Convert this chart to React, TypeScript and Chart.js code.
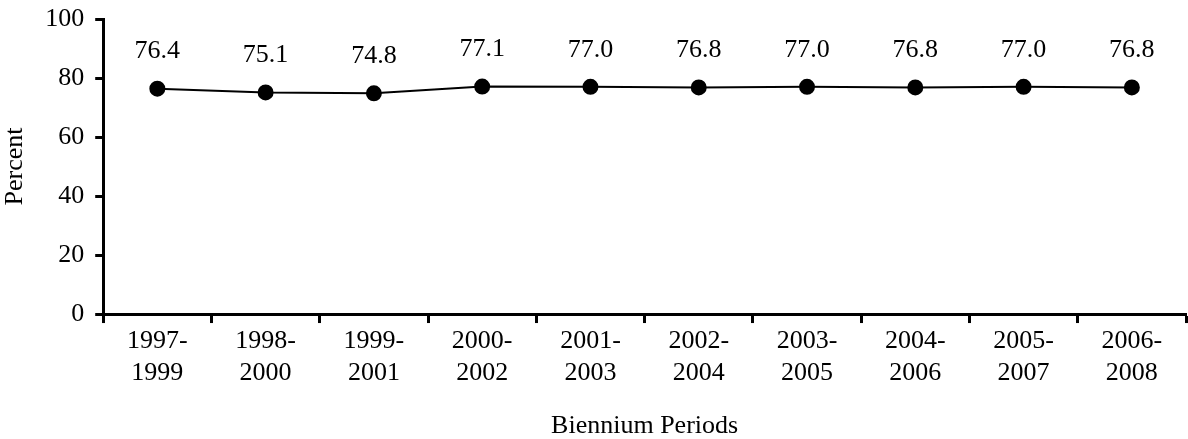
import React, { useEffect, useRef } from "react";
import { Chart, registerables } from "chart.js";

Chart.register(...registerables);

const categories: string[][] = [
  ["1997-", "1999"], ["1998-", "2000"], ["1999-", "2001"], ["2000-", "2002"], ["2001-", "2003"],
  ["2002-", "2004"], ["2003-", "2005"], ["2004-", "2006"], ["2005-", "2007"], ["2006-", "2008"],
];
const percentValues: number[] = [76.4, 75.1, 74.8, 77.1, 77.0, 76.8, 77.0, 76.8, 77.0, 76.8];
const yTicks: number[] = [0, 20, 40, 60, 80, 100];

const FONT = "'Liberation Serif', 'Times New Roman', serif";
const FS = 26;

const labelPlugin = {
  id: "valueLabels",
  afterDatasetsDraw(chart: any) {
    const ctx = chart.ctx;
    const meta = chart.getDatasetMeta(0);
    ctx.save();
    ctx.font = `${FS}px ${FONT}`;
    ctx.fillStyle = "#000";
    ctx.textAlign = "center";
    ctx.textBaseline = "middle";
    meta.data.forEach((pt: any, i: number) => {
      const v = percentValues[i];
      ctx.fillText(v.toFixed(1), pt.x, pt.y - 37);
    });
    ctx.restore();
  },
};

export default function App() {
  const ref = useRef<HTMLCanvasElement>(null);
  useEffect(() => {
    if (!ref.current) return;
    const chart = new Chart(ref.current, {
      type: "line",
      data: {
        labels: categories,
        datasets: [
          {
            data: percentValues,
            borderColor: "#000",
            backgroundColor: "#000",
            borderWidth: 2,
            pointRadius: 7,
            pointBackgroundColor: "#000",
            pointBorderColor: "#000",
            tension: 0,
            clip: false as any,
          },
        ],
      },
      options: {
        responsive: false,
        animation: false,
        maintainAspectRatio: false,
        layout: { autoPadding: false, padding: { top: 19, right: 2, bottom: 0, left: 0 } },
        plugins: { legend: { display: false }, tooltip: { enabled: false } },
        scales: {
          x: {
            offset: true,
            grid: {
              offset: true,
              drawOnChartArea: false,
              drawTicks: true,
              tickLength: 9,
              tickWidth: 3,
              tickColor: "#000",
            },
            border: { color: "#000", width: 3 },
            ticks: {
              color: "#000",
              font: { family: FONT, size: FS, lineHeight: 1.23 },
              padding: 2,
              maxRotation: 0,
            },
            title: {
              display: true,
              text: "Biennium Periods",
              color: "#000",
              font: { family: FONT, size: FS, lineHeight: 1.0 },
              padding: { top: 22, bottom: 0 },
            },
          },
          y: {
            min: 0,
            max: 100,
            afterBuildTicks: (axis: any) => {
              axis.ticks = yTicks.map((v) => ({ value: v }));
            },
            grid: {
              drawOnChartArea: false,
              drawTicks: true,
              tickLength: 8,
              tickWidth: 3,
              tickColor: "#000",
            },
            border: { color: "#000", width: 3 },
            ticks: {
              color: "#000",
              font: { family: FONT, size: FS, lineHeight: 0.3 },
              padding: 11,
            },
            title: {
              display: true,
              text: "Percent",
              color: "#000",
              font: { family: FONT, size: FS },
              padding: { top: 0, bottom: 3 },
            },
          },
        },
      },
      plugins: [labelPlugin],
    });
    return () => chart.destroy();
  }, []);
  return (
    <div style={{ position: "fixed", left: 0, top: 0, width: 1188, height: 439, background: "#fff" }}>
      <canvas ref={ref} width={1188} height={439} style={{ width: 1188, height: 439 }} />
    </div>
  );
}
